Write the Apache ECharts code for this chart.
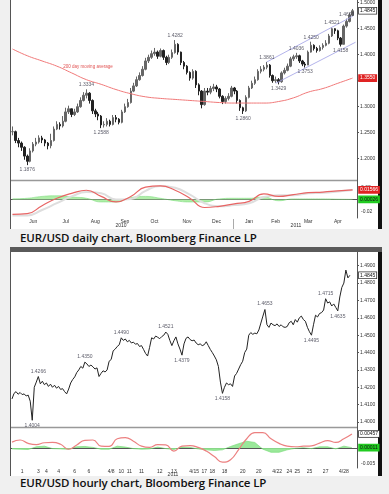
<!DOCTYPE html>
<html><head><meta charset="utf-8">
<script src="https://cdn.jsdelivr.net/npm/echarts/dist/echarts.min.js"></script>
<style>
html,body{margin:0;padding:0;background:#f0f0f0;width:389px;height:494px;overflow:hidden;position:relative;}
.panel{position:absolute;left:10px;width:372px;background:#fff;border-left:1px solid #555;border-right:4px solid #111;box-sizing:border-box;}
.cap{position:absolute;left:20px;font-family:'Open Sans',sans-serif;font-weight:600;font-size:11.5px;letter-spacing:-0.1px;color:#111;white-space:nowrap;}
#c{position:absolute;left:0;top:0;width:389px;height:494px;}
</style>
</head><body>
<div class="panel" style="top:0;height:229px;"></div>
<div style="position:absolute;left:10px;top:247px;width:372px;height:5px;background:#5a5a5a;"></div>
<div class="panel" style="top:252px;height:224px;"></div>
<div class="cap" style="top:230px;">EUR/USD daily chart, Bloomberg Finance LP</div>
<div class="cap" style="top:475px;">EUR/USD hourly chart, Bloomberg Finance LP</div>
<div id="c"></div>
<script>
// ---------- DAILY (one bar per ~3 days, May 2010 - Apr 2011) ----------
const dailyClose = [
 1.252,1.235,1.230,1.222,1.205,1.195,1.215,1.228,1.232,1.240,
 1.236,1.230,1.225,1.235,1.257,1.266,1.263,1.272,1.290,1.296,
 1.285,1.290,1.300,1.312,1.322,1.326,1.312,1.292,1.286,1.282,
 1.265,1.266,1.272,1.266,1.279,1.276,1.270,1.290,1.300,1.308,
 1.330,1.340,1.352,1.360,1.372,1.388,1.395,1.402,1.405,1.397,
 1.408,1.395,1.385,1.395,1.404,1.420,1.405,1.385,1.378,1.366,
 1.355,1.368,1.342,1.330,1.304,1.330,1.328,1.335,1.338,1.334,
 1.320,1.310,1.316,1.320,1.336,1.330,1.312,1.298,1.292,1.318,
 1.336,1.345,1.352,1.368,1.372,1.376,1.380,1.360,1.350,1.352,
 1.348,1.365,1.370,1.378,1.392,1.396,1.398,1.388,1.382,1.380,
 1.405,1.418,1.412,1.408,1.414,1.418,1.422,1.436,1.450,1.446,
 1.432,1.420,1.455,1.464,1.476,1.4845];
const dailyHigh = [
 1.262,1.254,1.240,1.233,1.224,1.208,1.220,1.232,1.240,1.245,
 1.244,1.238,1.232,1.248,1.262,1.272,1.270,1.282,1.298,1.302,
 1.296,1.296,1.306,1.318,1.328,1.3334,1.328,1.314,1.296,1.290,
 1.284,1.272,1.278,1.275,1.284,1.284,1.278,1.294,1.306,1.315,
 1.336,1.346,1.358,1.366,1.378,1.394,1.400,1.408,1.413,1.408,
 1.412,1.410,1.398,1.400,1.410,1.4282,1.422,1.406,1.388,1.380,
 1.368,1.372,1.370,1.345,1.332,1.336,1.336,1.340,1.344,1.342,
 1.336,1.322,1.320,1.326,1.340,1.338,1.332,1.314,1.300,1.322,
 1.340,1.350,1.358,1.372,1.378,1.380,1.3861,1.382,1.362,1.358,
 1.355,1.368,1.375,1.383,1.396,1.400,1.4036,1.400,1.390,1.386,
 1.408,1.4250,1.420,1.415,1.418,1.422,1.428,1.440,1.4521,1.451,
 1.448,1.434,1.458,1.4693,1.480,1.488];
const dailyLow = [
 1.245,1.230,1.222,1.215,1.198,1.1876,1.193,1.212,1.224,1.229,
 1.230,1.224,1.218,1.220,1.233,1.255,1.256,1.260,1.270,1.286,
 1.280,1.282,1.288,1.298,1.310,1.316,1.306,1.286,1.280,1.274,
 1.2588,1.260,1.262,1.262,1.264,1.270,1.266,1.268,1.288,1.298,
 1.306,1.328,1.338,1.350,1.358,1.370,1.384,1.392,1.398,1.392,
 1.395,1.390,1.380,1.382,1.392,1.402,1.400,1.380,1.372,1.362,
 1.350,1.352,1.336,1.322,1.2969,1.302,1.322,1.324,1.330,1.328,
 1.316,1.305,1.306,1.312,1.318,1.324,1.306,1.292,1.2860,1.290,
 1.316,1.334,1.342,1.350,1.364,1.368,1.372,1.356,1.346,1.346,
 1.3429,1.346,1.362,1.368,1.376,1.388,1.392,1.384,1.378,1.3753,
 1.380,1.404,1.408,1.404,1.406,1.410,1.416,1.420,1.434,1.440,
 1.428,1.4158,1.420,1.452,1.462,1.474];
// sampled every DAILY_STEP bars
const DAILY_STEP = 5;
const dailyMA200 = [1.411,1.398,1.388,1.378,1.365,1.352,1.343,1.333,1.325,1.319,1.316,1.314,
 1.312,1.310,1.308,1.307,1.307,1.307,1.310,1.317,1.328,1.335,1.345,1.355];
const dailyMacd = [-0.024,-0.023,-0.010,0.002,0.010,0.015,0.005,-0.004,0.005,0.020,0.022,0.015,
 0.002,-0.013,-0.011,-0.007,-0.003,0.009,0.005,0.008,0.011,0.012,0.014,0.01566];
const dailySignal = [-0.026,-0.026,-0.017,-0.006,0.005,0.012,0.010,0.000,0.001,0.014,0.022,0.019,
 0.008,-0.006,-0.011,-0.009,-0.006,0.004,0.007,0.007,0.010,0.011,0.013,0.0154];
const dailyHist = [0.001,0.002,0.005,0.006,0.004,0.002,-0.004,-0.004,0.003,0.005,0.002,-0.002,
 -0.004,-0.004,0.001,0.002,0.002,0.004,-0.002,0.001,0.001,0.001,0.0005,0.00026];
const dailyChannelUpper = [[86,1.386],[115,1.474]];
const dailyChannelLower = [[89,1.345],[116,1.424]];
const dailyNotes = [[5,1.1876,'low'],[25,1.3334,'high'],[30,1.2588,'low'],[55,1.4282,'high'],
 [78,1.2860,'low'],[86,1.3861,'high'],[90,1.3429,'low'],[96,1.4036,'high'],[99,1.3753,'low'],
 [101,1.4250,'high'],[108,1.4521,'high'],[111,1.4158,'low'],[113,1.4693,'high']];
const DAILY_SLOTS = 117;
const dailyMonthTicks = [[7,'Jun'],[18,'Jul'],[28,'Aug'],[38,'Sep'],[48,'Oct'],[59,'Nov'],
 [69,'Dec'],[80,'Jan'],[89,'Feb'],[100,'Mar'],[110,'Apr']];

// ---------- HOURLY (Apr 2011) ----------
const hourlyClose = [
 1.4133,1.4165,1.4175,1.4160,1.4170,1.4158,1.4162,1.4150,1.4155,1.4120,
 1.4010,1.4200,1.4230,1.4262,1.4220,1.4235,1.4215,1.4225,1.4205,1.4218,
 1.4200,1.4212,1.4195,1.4205,1.4188,1.4192,1.4175,1.4162,1.4190,1.4225,
 1.4245,1.4260,1.4285,1.4300,1.4320,1.4310,1.4345,1.4335,1.4320,1.4328,
 1.4318,1.4305,1.4312,1.4262,1.4280,1.4295,1.4288,1.4300,1.4350,1.4360,
 1.4410,1.4420,1.4435,1.4445,1.4485,1.4470,1.4478,1.4462,1.4470,1.4455,
 1.4460,1.4448,1.4452,1.4435,1.4440,1.4418,1.4395,1.4380,1.4430,1.4485,
 1.4478,1.4495,1.4488,1.4480,1.4492,1.4500,1.4518,1.4505,1.4470,1.4440,
 1.4468,1.4490,1.4450,1.4420,1.4385,1.4450,1.4482,1.4490,1.4475,1.4468,
 1.4472,1.4455,1.4445,1.4450,1.4440,1.4445,1.4462,1.4440,1.4418,1.4400,
 1.4380,1.4358,1.4320,1.4230,1.4165,1.4200,1.4225,1.4215,1.4220,1.4205,
 1.4265,1.4280,1.4305,1.4330,1.4350,1.4400,1.4420,1.4500,1.4515,1.4505,
 1.4512,1.4508,1.4530,1.4570,1.4610,1.4648,1.4560,1.4545,1.4570,1.4560,
 1.4555,1.4565,1.4550,1.4560,1.4548,1.4545,1.4550,1.4572,1.4580,1.4560,
 1.4590,1.4575,1.4600,1.4610,1.4590,1.4580,1.4545,1.4520,1.4500,1.4560,
 1.4615,1.4605,1.4625,1.4630,1.4645,1.4710,1.4685,1.4692,1.4668,1.4680,
 1.4660,1.4640,1.4720,1.4775,1.4800,1.4875,1.4830,1.4845];
const HOURLY_STEP = 4;
const hourlyMacd = [0.0019,0.0026,0.0015,0.0011,0.0017,0.0018,0.0012,-0.0004,0.0010,0.0025,
 0.0026,0.0006,0.0005,0.0030,0.0034,0.0022,0.0006,0.0002,0.0011,0.0010,-0.0010,0.0006,0.0008,
 0.0002,-0.0010,-0.0028,-0.0046,-0.0038,-0.0005,0.0030,0.0050,0.0050,0.0030,0.0015,0.0006,
 0.0004,0.0006,0.0007,0.0016,0.0024,0.0018,0.0030,0.00457];
const hourlyHist = [-0.0003,-0.0004,-0.0005,0.0004,0.0006,-0.0002,-0.0003,-0.0004,0.0004,0.0005,
 0.0002,-0.0004,-0.0004,0.0006,0.0003,-0.0002,-0.0004,-0.0003,0.0003,-0.0002,-0.0005,0.0003,
 0.0002,-0.0003,-0.0006,-0.0008,-0.0006,0.0005,0.0014,0.0022,0.0018,-0.0004,-0.0014,-0.0014,
 -0.0006,-0.0001,0.0001,-0.0002,0.0004,0.0004,-0.0003,0.0006,0.00011];
const hourlyNotes = [[10,1.4004,'low'],[13,1.4266,'high'],[36,1.4350,'high'],[54,1.4490,'high'],
 [76,1.4521,'high'],[84,1.4379,'low'],[104,1.4158,'low'],[125,1.4653,'high'],[148,1.4495,'low'],
 [155,1.4715,'high'],[161,1.4635,'low']];
const HOURLY_SLOTS = 171;
const hourlyDayTicks = [[5,'1'],[13,'3'],[17,'4'],[23,'4'],[31,'6'],[38,'6'],[49,'4/8'],[54,'10'],
 [58,'11'],[64,'11'],[73,'12'],[80,'13'],[90,'4/15'],[95,'17'],[99,'18'],[105,'18'],[114,'20'],
 [122,'20'],[131,'4/22'],[137,'24'],[141,'25'],[147,'25'],[155,'27'],[164,'4/28']];

// ---------- build ----------
const slots = n => Array.from({length:n},(_, i)=>String(i));
const tickMap = arr => { const m = {}; arr.forEach(([i,t])=>m[i]=t); return m; };
const dMap = tickMap(dailyMonthTicks), hMap = tickMap(hourlyDayTicks);
const sparse = (vals, step) => vals.map((v,k)=>[k*step, v]);
const near = (a,b) => Math.abs(a-b) < 1e-7;
const last = a => a[a.length-1];
const FONT = 'Liberation Sans';
const axisCol = '#555';
const AX_FS = 5;

const candle = dailyClose.map((c,i)=>[i===0?c:dailyClose[i-1], c, dailyLow[i], dailyHigh[i]]);
const noteSeries = (notes, xi, yi) => ({
  type:'scatter', xAxisIndex:xi, yAxisIndex:yi, symbolSize:0, silent:true, z:5,
  data: notes.map(([i,p,k])=>({value:[i,p], label:{position: k==='low'?'bottom':'top'}})),
  label:{show:true, fontSize:5, color:'#334', distance:2, fontFamily:FONT,
    formatter:o=>o.value[1].toFixed(4)}
});
const yBase = (gi, extra) => Object.assign({type:'value', gridIndex:gi, position:'right', splitLine:{show:false},
  axisLine:{show:true, lineStyle:{color:axisCol}}, axisTick:{show:true, length:2, lineStyle:{color:axisCol}}},
  extra);

const baseGraphic = [
  {type:'line', shape:{x1:11, y1:180.5, x2:357, y2:180.5}, style:{stroke:'#999', lineWidth:1.5}},
  {type:'line', shape:{x1:11, y1:427.5, x2:357, y2:427.5}, style:{stroke:'#999', lineWidth:1.5}},
  {type:'line', shape:{x1:233.5, y1:219, x2:233.5, y2:229}, style:{stroke:'#aaa', lineWidth:1}},
  {type:'text', x:121, y:226, style:{text:'2010', fontSize:AX_FS, fill:'#333', textAlign:'center', textVerticalAlign:'middle', fontFamily:FONT}},
  {type:'text', x:296, y:226, style:{text:'2011', fontSize:AX_FS, fill:'#333', textAlign:'center', textVerticalAlign:'middle', fontFamily:FONT}},
  {type:'text', x:173, y:474.5, style:{text:'2011', fontSize:AX_FS, fill:'#333', textAlign:'center', textVerticalAlign:'middle', fontFamily:FONT}},
  {type:'text', x:88, y:67, style:{text:'200 day moving average', fontSize:4.5, fill:'#e05050', textAlign:'center', textVerticalAlign:'middle', fontFamily:FONT}}
];

const option = {
  backgroundColor:'transparent', animation:false,
  textStyle:{fontFamily:FONT},
  grid:[
    {left:11, right:32, top:0, height:184.7},
    {left:11, right:32, top:181, height:37},
    {left:11, right:32, top:252, height:187.4},
    {left:11, right:32, top:428, height:40}
  ],
  xAxis:[
    {type:'category', gridIndex:0, data:slots(DAILY_SLOTS), show:false},
    {type:'category', gridIndex:1, data:slots(DAILY_SLOTS),
      axisLine:{lineStyle:{color:axisCol}},
      axisTick:{interval:(i)=>dMap[i]!==undefined, length:2, alignWithLabel:true, lineStyle:{color:axisCol}},
      axisLabel:{interval:(i)=>dMap[i]!==undefined, formatter:(v,i)=>dMap[i]||'', fontSize:AX_FS, color:'#333', margin:1}},
    {type:'category', gridIndex:2, data:slots(HOURLY_SLOTS), show:false},
    {type:'category', gridIndex:3, data:slots(HOURLY_SLOTS),
      axisLine:{lineStyle:{color:axisCol}},
      axisTick:{interval:(i)=>hMap[i]!==undefined, length:2, alignWithLabel:true, lineStyle:{color:axisCol}},
      axisLabel:{interval:(i)=>hMap[i]!==undefined, formatter:(v,i)=>hMap[i]||'', fontSize:AX_FS, color:'#333', margin:1}}
  ],
  yAxis:[
    yBase(0,{min:1.15, max:1.5052, interval:0.05,
      axisLabel:{fontSize:AX_FS, color:'#333', margin:3, showMinLabel:false, showMaxLabel:false, formatter:v=>v.toFixed(4)}}),
    yBase(1,{min:-0.03, max:0.03, interval:0.01, axisTick:{show:false},
      axisLabel:{fontSize:AX_FS, color:'#333', margin:4, formatter:v=>near(v,0.02)?'0.02':near(v,-0.02)?'-0.02':''}}),
    yBase(2,{min:1.39, max:1.4979, interval:0.01,
      axisLabel:{fontSize:AX_FS, color:'#333', margin:3, showMinLabel:false, showMaxLabel:false, formatter:v=>v.toFixed(4)}}),
    yBase(3,{min:-0.0065, max:0.0065, interval:0.0005, axisTick:{show:false},
      axisLabel:{fontSize:AX_FS, color:'#333', margin:4, formatter:v=>near(v,-0.005)?'-0.005':''}})
  ],
  series:[
    {type:'candlestick', xAxisIndex:0, yAxisIndex:0, data:candle, barWidth:2,
      itemStyle:{color:'#666', color0:'#222', borderColor:'#666', borderColor0:'#222', borderWidth:1}},
    {type:'line', xAxisIndex:0, yAxisIndex:0, data:sparse(dailyMA200, DAILY_STEP), symbol:'none', smooth:true,
      lineStyle:{color:'#f07878', width:1}, z:3},
    {type:'line', xAxisIndex:0, yAxisIndex:0, data:dailyChannelUpper, symbol:'none', lineStyle:{color:'#a0a0e6', width:0.8}},
    {type:'line', xAxisIndex:0, yAxisIndex:0, data:dailyChannelLower, symbol:'none', lineStyle:{color:'#a0a0e6', width:0.8}},
    noteSeries(dailyNotes, 0, 0),
    {type:'line', xAxisIndex:1, yAxisIndex:1, data:sparse(dailyHist, DAILY_STEP), symbol:'none', smooth:true,
      lineStyle:{color:'#7fdc7f', width:0.6}, areaStyle:{color:'#a6ec9e', opacity:0.9}},
    {type:'line', xAxisIndex:1, yAxisIndex:1, data:sparse(dailySignal, DAILY_STEP), symbol:'none', smooth:true,
      lineStyle:{color:'#dedede', width:2}},
    {type:'line', xAxisIndex:1, yAxisIndex:1, data:sparse(dailyMacd, DAILY_STEP), symbol:'none', smooth:true,
      lineStyle:{color:'#e86464', width:1.2}},
    {type:'line', xAxisIndex:2, yAxisIndex:2, data:hourlyClose, symbol:'none',
      lineStyle:{color:'#222', width:1}},
    noteSeries(hourlyNotes, 2, 2),
    {type:'line', xAxisIndex:3, yAxisIndex:3, data:sparse(hourlyHist, HOURLY_STEP), symbol:'none',
      lineStyle:{color:'#6fd86f', width:0.6}, areaStyle:{color:'#8fe68f', opacity:0.9}},
    {type:'line', xAxisIndex:3, yAxisIndex:3, data:sparse(hourlyMacd, HOURLY_STEP), symbol:'none', smooth:true,
      lineStyle:{color:'#ec8080', width:1.2}}
  ],
  graphic: baseGraphic
};
const chart = echarts.init(document.getElementById('c'), null, {renderer:'canvas'});
chart.setOption(option);

// last-value tags on the right axes, placed through the axes' own scales
const tagDefs = [
  [0, last(dailyClose), 4, '#fff', '#111', '#333'],
  [0, last(dailyMA200), 4, '#e02424', '#fff', '#e02424'],
  [1, last(dailyMacd), 5, '#e02424', '#fff', '#e02424'],
  [1, last(dailyHist), 5, '#22cc22', '#111', '#22cc22'],
  [2, last(hourlyClose), 4, '#fff', '#111', '#333'],
  [3, last(hourlyMacd), 5, '#fff', '#111', '#333'],
  [3, last(hourlyHist), 5, '#22cc22', '#111', '#22cc22']
];
const tagGraphic = tagDefs.map(([ax, v, d, bg, fg, bd]) => ({
  type:'text', x:359, y:chart.convertToPixel({yAxisIndex:ax}, v), z:20,
  style:{text:v.toFixed(d), fontSize:AX_FS, fontFamily:FONT, fill:fg, backgroundColor:bg,
    borderColor:bd, borderWidth:0.8, padding:[1,1,0,1], textVerticalAlign:'middle'}
}));
chart.setOption({graphic: baseGraphic.concat(tagGraphic)});
</script>
</body></html>
